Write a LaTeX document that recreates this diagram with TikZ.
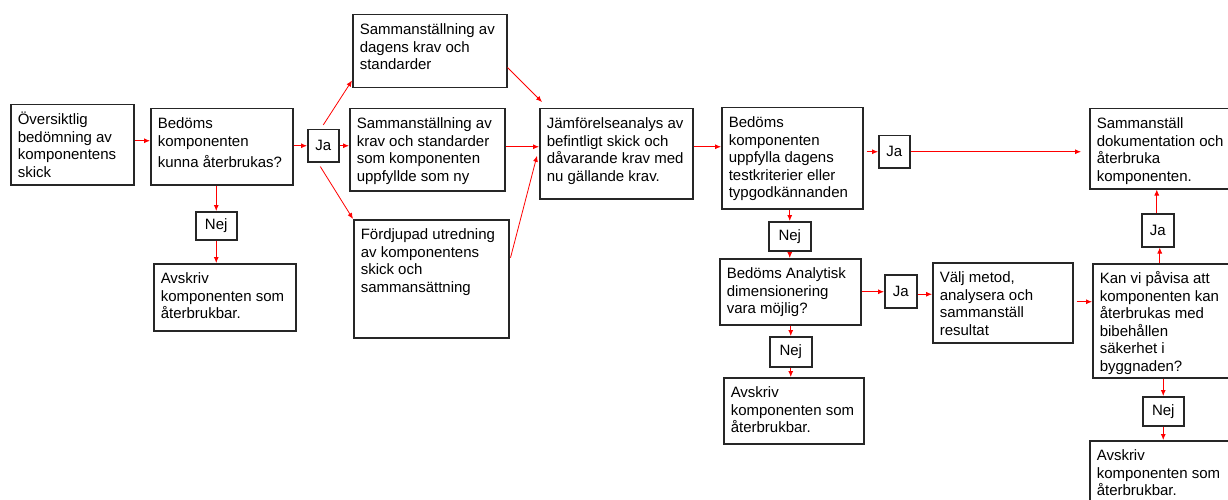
\documentclass[tikz,border=0pt]{standalone}
\usepackage{fontspec}
\setmainfont{Liberation Sans}
\usetikzlibrary{arrows.meta,calc}
\newcommand\bt[3]{\begin{minipage}[c][#2][t]{#1}\raggedright\leftskip=7pt\relax\rule{0pt}{20pt}#3\end{minipage}}
\begin{document}
\begin{tikzpicture}[x=1pt,y=1pt,
  font=\fontsize{15}{17.5}\selectfont,
  box/.style={draw=black!85, line width=1.5pt, inner sep=0pt, anchor=north west, rectangle},
  lab/.style={draw=black!85, line width=1.5pt, inner sep=0pt, anchor=north west, rectangle},
  arr/.style={draw=red, line width=0.8pt, -{Latex[length=6pt,width=5pt]}}]
\useasboundingbox (0,0) rectangle (1228,-500);
% boxes
\node[box] (A) at (10,-104) {\bt{123pt}{80pt}{Översiktlig\\bedömning av\\komponentens\\skick}};
\node[box] (B) at (150,-108) {\bt{142pt}{76pt}{Bedöms\\komponenten\\[3.5pt]kunna återbrukas?}};
\node[lab, minimum width=31pt, minimum height=32pt] (Ja1) at (307,-129) {Ja};
\node[lab, minimum width=41pt, minimum height=28pt] (Nej1) at (195,-211) {Nej};
\node[box] (Av1) at (153,-263) {\bt{142pt}{67pt}{Avskriv\\komponenten som\\återbrukbar.}};
\node[box] (S1) at (352,-14) {\bt{154pt}{73pt}{Sammanställning av\\dagens krav och\\standarder}};
\node[box] (S2) at (349,-108) {\bt{155pt}{82pt}{Sammanställning av\\krav och standarder\\som komponenten\\uppfyllde som ny}};
\node[box] (S3) at (353,-219) {\bt{155pt}{118pt}{Fördjupad utredning\\av komponentens\\skick och\\sammansättning}};
\node[box] (J) at (539,-108) {\bt{153pt}{90pt}{Jämförelseanalys av\\befintligt skick och\\dåvarande krav med\\nu gällande krav.}};
\node[box] (C) at (721,-107) {\bt{141pt}{101pt}{Bedöms\\komponenten\\uppfylla dagens\\testkriterier eller\\typgodkännanden}};
\node[lab, minimum width=31pt, minimum height=32pt] (Ja2) at (878,-135) {Ja};
\node[box] (R) at (1089,-108) {\bt{150pt}{80pt}{Sammanställ\\dokumentation och\\återbruka\\komponenten.}};
\node[lab, minimum width=42pt, minimum height=29pt] (Nej2) at (768,-221) {Nej};
\node[box] (D) at (719,-258) {\bt{141pt}{66pt}{Bedöms Analytisk\\dimensionering\\vara möjlig?}};
\node[lab, minimum width=32pt, minimum height=33pt] (Ja3) at (884,-274) {Ja};
\node[box] (V) at (932,-262) {\bt{140pt}{80pt}{Välj metod,\\analysera och\\sammanställ\\resultat}};
\node[box] (K) at (1092,-263) {\bt{150pt}{114pt}{Kan vi påvisa att\\komponenten kan\\återbrukas med\\bibehållen\\säkerhet i\\byggnaden?}};
\node[lab, minimum width=32pt, minimum height=33pt] (Ja4) at (1141,-213) {Ja};
\node[lab, minimum width=41pt, minimum height=29pt] (Nej3) at (1142,-396) {Nej};
\node[box] (Av3) at (1089,-440) {\bt{150pt}{70pt}{Avskriv\\komponenten som\\återbrukbar.}};
\node[lab, minimum width=42pt, minimum height=30pt] (Nej4) at (769,-336) {Nej};
\node[box] (Av2) at (723,-377) {\bt{140pt}{66pt}{Avskriv\\komponenten som\\återbrukbar.}};
% helper coordinates
\coordinate (pA) at ($(A.east)+(0,4)$);
\coordinate (pJw) at ($(J.west)+(0,7)$);
\coordinate (pJe) at ($(J.east)+(0,7)$);
\coordinate (pCe) at ($(Ja2.west -| C.east)+(3,0)$);
\coordinate (pJa3) at ($(Ja3.east)+(0,-3)$);
\coordinate (pV) at ($(V.east)+(3,1)$);
\coordinate (pJa4s) at ($(Ja4.south)+(2,0)$);
\coordinate (pJa4n) at ($(Ja4.north)+(-1,0)$);
% connectors
\draw[arr] (pA) -- (pA -| B.west);
\draw[arr] (Ja1.west -| B.east) -- (Ja1.west);
\draw[arr] (Ja1.east) -- (Ja1.east -| S2.west);
\draw[arr] ($(Ja1.north)+(0,4)$) -- ($(S1.south west)+(0,8)$);
\draw[arr] ($(Ja1.south)+(-3,-4)$) -- (S3.north west);
\draw[arr] (Nej1.north |- B.south) -- (Nej1.north);
\draw[arr] (Nej1.south) -- (Nej1.south |- Av1.north);
\draw[arr] ($(S1.south east)+(0,21)$) -- ($(J.north west)+(3,6)$);
\draw[arr] (pJw -| S2.east) -- (pJw);
\draw[arr] ($(S3.east)+(1,21)$) -- ($(J.west)+(-2,-2)$);
\draw[arr] (pJe) -- (pJe -| C.west);
\draw[arr] (pCe) -- (Ja2.west);
\draw[arr, shorten >=8pt] (Ja2.east) -- (Ja2.east -| R.west);
\draw[arr] (Nej2.north |- C.south) -- (Nej2.north);
\draw[arr] (Nej2.south) -- (Nej2.south |- D.north);
\draw[arr] (D.east) -- (D.east -| Ja3.west);
\draw[arr] (pJa3) -- (pJa3 -| V.west);
\draw[arr] (pV) -- (pV -| K.west);
\draw[arr] (pJa4s |- K.north) -- (pJa4s);
\draw[arr] (pJa4n) -- (pJa4n |- R.south);
\draw[arr] (Nej3.north |- K.south) -- (Nej3.north);
\draw[arr] (Nej3.south) -- (Nej3.south |- Av3.north);
\draw[arr] (Nej4.north |- D.south) -- (Nej4.north);
\draw[arr] (Nej4.south) -- (Nej4.south |- Av2.north);
\end{tikzpicture}
\end{document}
